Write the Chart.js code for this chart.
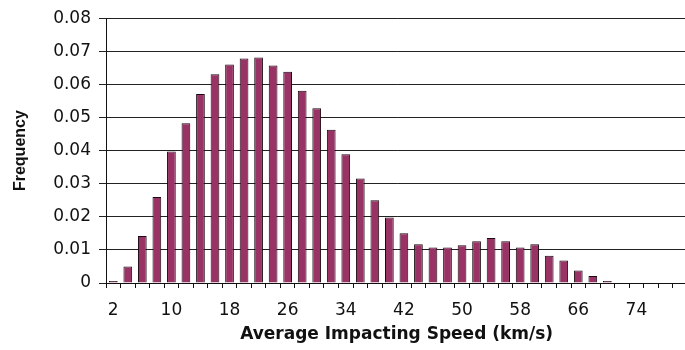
<!DOCTYPE html>
<html>
<head>
<meta charset="utf-8">
<script src="https://cdn.jsdelivr.net/npm/chart.js@4/dist/chart.umd.min.js"></script>
<style>
  html,body{margin:0;padding:0;background:#fff;overflow:hidden;}
  #wrap{position:relative;width:692px;height:350px;}
</style>
</head>
<body>
<div id="wrap"><canvas id="speedChart"></canvas></div>
<script>
// 速度カテゴリ（2 km/s 刻み）。右端は元画像で切れている。
const speeds=[2,4,6,8,10,12,14,16,18,20,22,24,26,28,30,32,34,36,38,40,
              42,44,46,48,50,52,54,56,58,60,62,64,66,68,70,72,74,76,78,80];
// 頻度
const freq=[0.0006,0.005,0.0142,0.026,0.0397,0.0483,0.0571,0.0631,0.066,0.0678,
            0.0681,0.0657,0.0638,0.0581,0.0528,0.0463,0.0389,0.0316,0.025,0.0198,
            0.015,0.0117,0.0107,0.0107,0.0114,0.0126,0.0136,0.0126,0.0107,0.0117,
            0.0082,0.0068,0.0038,0.0021,0.0006,0,0,0,0,0];
const yTicks=[0,0.01,0.02,0.03,0.04,0.05,0.06,0.07,0.08];

const tickFont={family:'DejaVu Sans',size:17};
const titleFont={family:'DejaVu Sans',size:17,weight:'bold'};

new Chart(document.getElementById('speedChart'),{
  type:'bar',
  data:{
    labels:speeds,
    datasets:[{data:freq,backgroundColor:'#993366',borderColor:'#1a0a10',borderWidth:1,
      categoryPercentage:1,barPercentage:0.6}]
  },
  options:{
    responsive:true,maintainAspectRatio:false,animation:false,
    layout:{padding:{top:12,left:0,right:0,bottom:0}},
    plugins:{legend:{display:false},tooltip:{enabled:false}},
    scales:{
      x:{
        grid:{display:true,drawOnChartArea:false,drawTicks:true,tickLength:5,color:'#111',offset:true},
        border:{display:true,color:'#111',width:1},
        ticks:{color:'#111',font:tickFont,padding:12,autoSkip:false,maxRotation:0,
          callback:(v,i)=>i%4===0?speeds[i]:''},
        title:{display:true,text:'Average Impacting Speed (km/s)',color:'#111',font:titleFont,padding:{top:0,bottom:5}},
        afterFit:s=>{s.height=67;}
      },
      y:{
        min:0,max:0.08,
        afterBuildTicks:s=>{s.ticks=yTicks.map(v=>({value:v}));},
        grid:{color:'#222',lineWidth:1,tickLength:7},
        border:{display:true,color:'#111',width:1},
        ticks:{color:'#111',font:tickFont,padding:8,callback:v=>String(v)},
        title:{display:true,text:'Frequency',color:'#111',
          font:{family:'Liberation Sans',size:16,weight:'bold'},padding:{top:11,bottom:0}},
        afterFit:s=>{s.width=106;}
      }
    }
  }
});
</script>
</body>
</html>
